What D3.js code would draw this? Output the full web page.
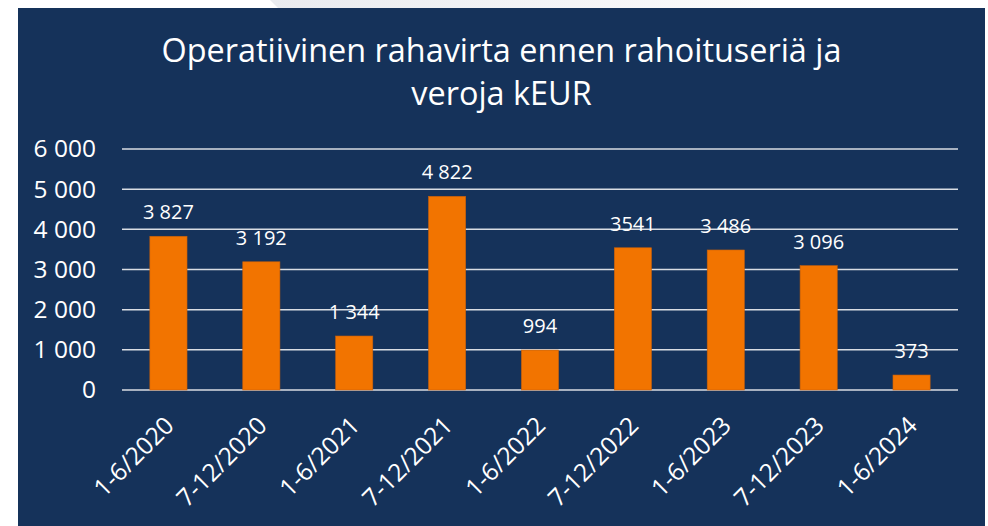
<!DOCTYPE html>
<html>
<head>
<meta charset="utf-8">
<script src="https://cdn.jsdelivr.net/npm/d3@7"></script>
<style>
  html, body { margin: 0; padding: 0; background: #ffffff; }
  svg { display: block; font-family: "Open Sans", sans-serif; }
</style>
</head>
<body>
<svg id="chart" width="988" height="526"></svg>
<script>
const categories = ["1-6/2020", "7-12/2020", "1-6/2021", "7-12/2021", "1-6/2022",
  "7-12/2022", "1-6/2023", "7-12/2023", "1-6/2024"];
const values = [3827, 3192, 1344, 4822, 994, 3541, 3486, 3096, 373];
const valueLabels = ["3 827", "3 192", "1 344", "4 822", "994", "3541", "3 486", "3 096", "373"];
const yTicks = [0, 1000, 2000, 3000, 4000, 5000, 6000];
const titleLines = ["Operatiivinen rahavirta ennen rahoituseriä ja", "veroja kEUR"];

const width = 988, height = 526;
const panel = { left: 18, top: 8, right: 985, bottom: 526 };
const margin = { left: 122, right: 958, top: 149, bottom: 390 };

const svg = d3.select("#chart");

// faint slide shape behind the panel top
const grad = svg.append("defs").append("linearGradient").attr("id", "fade");
grad.append("stop").attr("offset", "0%").attr("stop-color", "#e9ebef");
grad.append("stop").attr("offset", "100%").attr("stop-color", "#fbfbfc");
svg.append("path")
  .attr("d", "M270,0 L760,0 L760,8 L278,8 Z")
  .attr("fill", "url(#fade)");

svg.append("rect")
  .attr("x", panel.left).attr("y", panel.top)
  .attr("width", panel.right - panel.left).attr("height", panel.bottom - panel.top)
  .attr("fill", "#15325a");

// title
svg.append("text")
  .attr("text-anchor", "middle")
  .attr("fill", "#ffffff")
  .attr("font-size", 32.4)
  .selectAll("tspan")
  .data(titleLines)
  .join("tspan")
  .attr("x", (panel.left + panel.right) / 2)
  .attr("y", (d, i) => 62 + i * 43)
  .text(d => d);

const x = d3.scaleBand()
  .domain(categories)
  .range([margin.left, margin.right])
  .paddingInner(0.6)
  .paddingOuter(0.3);

const y = d3.scaleLinear()
  .domain([0, 6000])
  .range([margin.bottom, margin.top]);

// gridlines
svg.append("g")
  .selectAll("line")
  .data(yTicks)
  .join("line")
  .attr("x1", margin.left).attr("x2", margin.right)
  .attr("y1", d => y(d)).attr("y2", d => y(d))
  .attr("stroke", "#d9dde3")
  .attr("stroke-width", 1.5);

// y axis labels
const yAxis = svg.append("g")
  .attr("transform", "translate(96,0)")
  .call(d3.axisLeft(y).tickValues(yTicks).tickSize(0).tickPadding(0)
    .tickFormat(d => d3.format(",")(d).replace(/,/g, " ")));
yAxis.select(".domain").remove();
yAxis.selectAll("text")
  .attr("fill", "#ffffff")
  .attr("font-size", 24.5)
  .attr("font-family", "Open Sans, sans-serif");

// bars
svg.append("g")
  .selectAll("rect")
  .data(values)
  .join("rect")
  .attr("x", (d, i) => x(categories[i]))
  .attr("y", d => y(d))
  .attr("width", x.bandwidth())
  .attr("height", d => y(0) - y(d))
  .attr("fill", "#f27400")
  .attr("stroke", "#c8600a")
  .attr("stroke-width", 0.6);

// value labels
svg.append("g")
  .selectAll("text")
  .data(values)
  .join("text")
  .attr("x", (d, i) => x(categories[i]) + x.bandwidth() / 2)
  .attr("y", d => y(d) - 17)
  .attr("text-anchor", "middle")
  .attr("fill", "#ffffff")
  .attr("font-size", 20)
  .text((d, i) => valueLabels[i]);

// category labels
const xAxis = svg.append("g")
  .attr("transform", `translate(0,${margin.bottom})`)
  .call(d3.axisBottom(x).tickSize(0).tickPadding(0));
xAxis.select(".domain").remove();
xAxis.selectAll("text")
  .attr("fill", "#ffffff")
  .attr("font-size", 24.5)
  .attr("font-family", "Open Sans, sans-serif")
  .attr("text-anchor", "end")
  .attr("dy", 0)
  .attr("transform", "translate(7,37) rotate(-45)");
</script>
</body>
</html>
